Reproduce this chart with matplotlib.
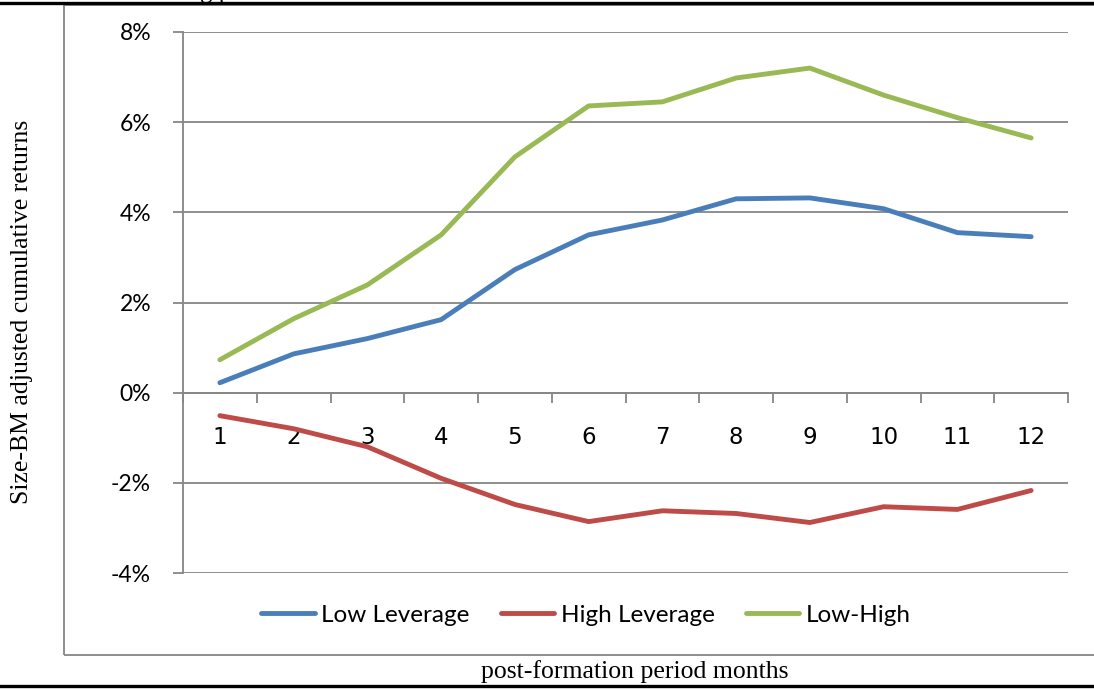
import matplotlib
matplotlib.use("Agg")
import matplotlib.pyplot as plt
from matplotlib.lines import Line2D
from matplotlib.patches import Rectangle
import numpy as np

months = [1, 2, 3, 4, 5, 6, 7, 8, 9, 10, 11, 12]
low_lev = [0.22, 0.86, 1.20, 1.62, 2.73, 3.50, 3.83, 4.30, 4.32, 4.08, 3.55, 3.46]
high_lev = [-0.51, -0.80, -1.20, -1.90, -2.48, -2.86, -2.62, -2.68, -2.88, -2.53, -2.59, -2.17]
low_high = [0.73, 1.64, 2.39, 3.50, 5.23, 6.36, 6.45, 6.98, 7.20, 6.60, 6.10, 5.65]
series_names = ["Low Leverage", "High Leverage", "Low-High"]
colors = ["#4A7EBB", "#BE4B48", "#98B954"]
yticks = [-4, -2, 0, 2, 4, 6, 8]

W, H = 1094, 689
fig = plt.figure(figsize=(W / 100, H / 100), dpi=100)

def fx(px):
    return px / W

def fy(py):
    return 1 - py / H

tick_font = "Lato"
serif = "Liberation Serif"
grid_c = "#868686"
tsize = 16.5

# outer frame of the chart object
fig.add_artist(Rectangle((fx(64), fy(655)), fx(1100) - fx(64), fy(5) - fy(655),
                         transform=fig.transFigure, fill=False, edgecolor=grid_c, lw=1.3))
# black page rules
fig.add_artist(Line2D([0, 1], [fy(3), fy(3)], transform=fig.transFigure, color="black", lw=2.4))
fig.add_artist(Line2D([0, 1], [fy(686), fy(686)], transform=fig.transFigure, color="black", lw=2.4))
# cropped caption text at top
fig.text(fx(200), fy(-2), "g p", fontsize=18, family=serif, va="baseline", ha="left")

ax = fig.add_axes([fx(183), fy(573), fx(1068) - fx(183), fy(32) - fy(573)])
ax.set_xlim(0.5, 12.5)
ax.set_ylim(-4, 8)

for vals, name, c in zip([low_lev, high_lev, low_high], series_names, colors):
    ax.plot(months, vals, color=c, lw=3.5, label=name, solid_capstyle="round",
            solid_joinstyle="round", zorder=3)

ax.set_yticks(yticks)
ax.set_yticklabels([f"{v}%" for v in yticks])
ax.yaxis.grid(True, color=grid_c, lw=1.3)
ax.set_axisbelow(True)
ax.tick_params(axis="y", length=7, width=1.3, color=grid_c, pad=16, labelsize=tsize)

ax.set_xticks(np.arange(0.5, 13, 1))
ax.set_xticklabels([])
ax.set_xticks(months, minor=True)
ax.set_xticklabels([str(m) for m in months], minor=True)
ax.tick_params(axis="x", which="major", direction="out", length=7, width=1.3, color=grid_c)
ax.tick_params(axis="x", which="minor", length=0, pad=24, labelsize=tsize)
for lab in ax.get_yticklabels() + ax.get_xticklabels(minor=True):
    lab.set_family(tick_font)

for s in ["top", "right"]:
    ax.spines[s].set_visible(False)
ax.spines["left"].set_color(grid_c)
ax.spines["left"].set_linewidth(1.3)
ax.spines["bottom"].set_position(("data", 0))
ax.spines["bottom"].set_color(grid_c)
ax.spines["bottom"].set_linewidth(1.3)

leg = fig.legend(loc="center", bbox_to_anchor=(fx(586), fy(615)), ncol=3, frameon=False,
                 prop={"family": tick_font, "size": 17.5}, handlelength=2.2, handletextpad=0.25,
                 columnspacing=1.3)

fig.text(fx(22), fy(312), "Size-BM adjusted cumulative returns", rotation=90, fontsize=18.5,
         family=serif, ha="center", va="center")
fig.text(fx(635), fy(672), "post-formation period months", fontsize=18.5, family=serif,
         ha="center", va="center")

fig.savefig("out.png", dpi=100)
